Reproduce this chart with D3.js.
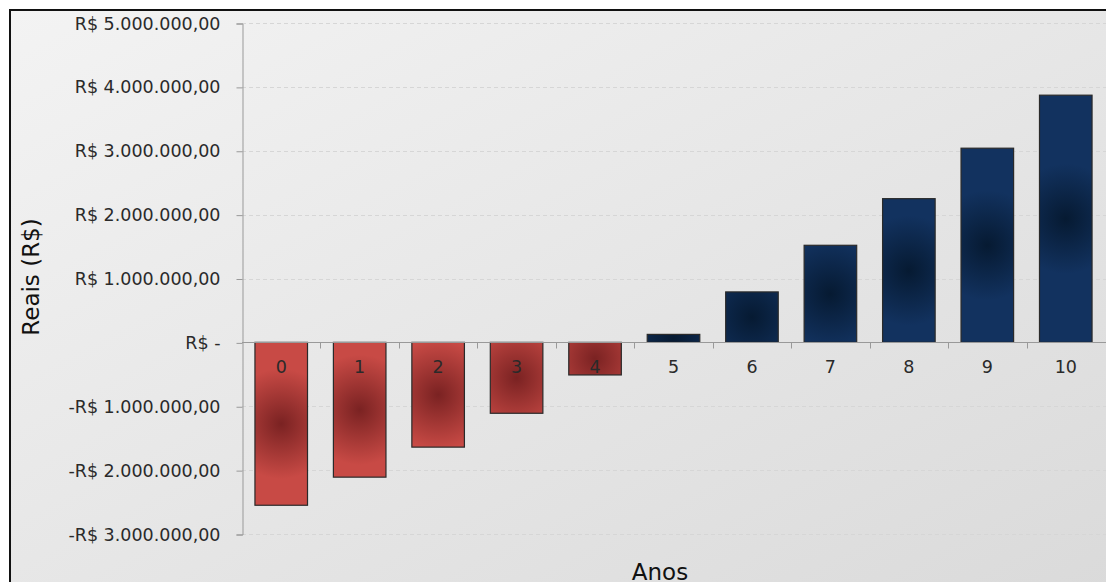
<!DOCTYPE html>
<html>
<head>
<meta charset="utf-8">
<script src="https://cdn.jsdelivr.net/npm/d3@7"></script>
<style>
  body { margin: 0; background: #fff; }
  svg { display: block; font-family: "DejaVu Sans", Verdana, sans-serif; }
</style>
</head>
<body>
<div id="chart"></div>
<script>
// anos e fluxo de caixa acumulado
var anos = ["0", "1", "2", "3", "4", "5", "6", "7", "8", "9", "10"];
var valores = [-2550000, -2110000, -1640000, -1110000, -510000, 125000, 790000, 1520000, 2250000, 3040000, 3870000];
var yTicks = [-3000000, -2000000, -1000000, 0, 1000000, 2000000, 3000000, 4000000, 5000000];

var width = 1106, height = 582;
var plotLeft = 242, plotRight = 1105, plotTop = 23, plotBottom = 534;

var svg = d3.select("#chart").append("svg")
    .attr("width", width)
    .attr("height", height);

var defs = svg.append("defs");

// fundo com degrade
var bg = defs.append("linearGradient")
    .attr("id", "bg")
    .attr("x1", "0").attr("y1", "0").attr("x2", "1").attr("y2", "1");
bg.append("stop").attr("offset", "0%").attr("stop-color", "#f3f3f3");
bg.append("stop").attr("offset", "100%").attr("stop-color", "#dadada");

svg.append("rect")
    .attr("x", 10).attr("y", 10)
    .attr("width", width).attr("height", height)
    .attr("fill", "url(#bg)")
    .attr("stroke", "#111")
    .attr("stroke-width", 2);

var x = d3.scaleBand()
    .domain(anos)
    .range([plotLeft, plotRight])
    .paddingInner(0.33)
    .paddingOuter(0.165);

var y = d3.scaleLinear()
    .domain([-3000000, 5000000])
    .range([plotBottom, plotTop]);

function moeda(v) {
    if (v === 0) return "R$ -";
    var s = d3.format(",.2f")(Math.abs(v)).replace(/,/g, "#").replace(".", ",").replace(/#/g, ".");
    return (v < 0 ? "-" : "") + "R$ " + s;
}

// linhas de grade
svg.append("g")
  .selectAll("line")
  .data(yTicks.filter(function(d){ return d !== 0; }))
  .enter().append("line")
    .attr("x1", plotLeft).attr("x2", width)
    .attr("y1", function(d){ return Math.round(y(d)) + 0.5; })
    .attr("y2", function(d){ return Math.round(y(d)) + 0.5; })
    .attr("stroke", "#d6d6d6")
    .attr("stroke-dasharray", "4,3");

// eixo y
var yAxis = svg.append("g")
    .attr("transform", "translate(" + (plotLeft + 0.5) + ",0.5)")
    .call(d3.axisLeft(y).tickValues(yTicks).tickFormat(moeda).tickSize(6).tickPadding(16));
yAxis.select(".domain").attr("stroke", "#999");
yAxis.selectAll(".tick line").attr("stroke", "#999");
yAxis.selectAll(".tick text")
    .attr("fill", "#2a2a2a")
    .style("font-size", "17.5px")
    .style("font-family", "'DejaVu Sans', Verdana, sans-serif");

// gradientes radiais das barras
valores.forEach(function(v, i) {
    var cx = x(anos[i]) + x.bandwidth() / 2;
    var cy = (y(v) + y(0)) / 2;
    var neg = v < 0;
    var g = defs.append("radialGradient")
        .attr("id", "grad" + i)
        .attr("gradientUnits", "userSpaceOnUse")
        .attr("cx", cx).attr("cy", cy).attr("r", 55);
    g.append("stop").attr("offset", "0%").attr("stop-color", neg ? "#7a2222" : "#061a32");
    g.append("stop").attr("offset", "100%").attr("stop-color", neg ? "#c84a45" : "#12325f");
});

svg.append("g")
  .selectAll("rect")
  .data(valores)
  .enter().append("rect")
    .attr("x", function(d, i){ return x(anos[i]); })
    .attr("y", function(d){ return y(Math.max(d, 0)); })
    .attr("width", x.bandwidth())
    .attr("height", function(d){ return Math.abs(y(d) - y(0)); })
    .attr("fill", function(d, i){ return "url(#grad" + i + ")"; })
    .attr("stroke", "#2a2a2a")
    .attr("stroke-width", 1.2);

// eixo x no zero
var xAxis = svg.append("g")
    .attr("transform", "translate(0," + (Math.round(y(0)) + 0.5) + ")");
xAxis.append("line")
    .attr("x1", plotLeft).attr("x2", width)
    .attr("stroke", "#999");
xAxis.selectAll(".sep")
    .data(anos.slice(1))
    .enter().append("line")
    .attr("class", "sep")
    .attr("x1", function(d){ return Math.round(x(d) - x.step() * x.paddingInner() / 2) + 0.5; })
    .attr("x2", function(d){ return Math.round(x(d) - x.step() * x.paddingInner() / 2) + 0.5; })
    .attr("y1", 0).attr("y2", 6)
    .attr("stroke", "#999");
xAxis.selectAll("text")
    .data(anos)
    .enter().append("text")
    .attr("x", function(d){ return x(d) + x.bandwidth() / 2; })
    .attr("y", 30)
    .attr("text-anchor", "middle")
    .attr("fill", "#2a2a2a")
    .style("font-size", "17.5px")
    .text(function(d){ return d; });

// titulos dos eixos
svg.append("text")
    .attr("transform", "translate(39," + 277 + ") rotate(-90)")
    .attr("text-anchor", "middle")
    .attr("fill", "#111")
    .style("font-size", "23px")
    .text("Reais (R$)");

svg.append("text")
    .attr("x", 660).attr("y", 580)
    .attr("text-anchor", "middle")
    .attr("fill", "#111")
    .style("font-size", "23px")
    .text("Anos");
</script>
</body>
</html>
